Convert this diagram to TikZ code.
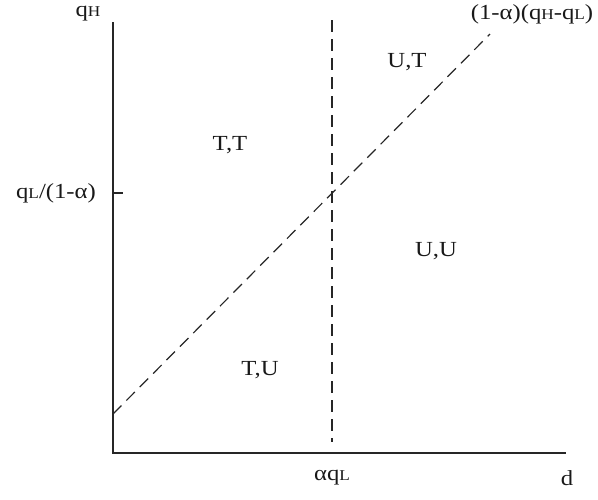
\documentclass[tikz,border=0pt]{standalone}
\usepackage{fontspec}
\setmainfont[FakeStretch=1.15]{Liberation Serif}
\newcommand{\sm}[1]{{\fontsize{15}{17}\selectfont #1}}
\begin{document}
\begin{tikzpicture}[x=1pt,y=-1pt,
  axisline/.style={line width=1.3pt,black!85},
  dashline/.style={line width=1.2pt,black!85,dash pattern=on 12pt off 7pt},
  lbl/.style={font=\fontsize{21.5}{24}\selectfont,inner sep=0pt,text=black!90}]
\useasboundingbox (0,0) rectangle (598,499);
\coordinate (O) at (113,453);
\coordinate (Ytop) at (113,22);
\coordinate (Xend) at (566,453);
\coordinate (TickA) at (113,193);
\coordinate (TickB) at (123,193);
\coordinate (Vtop) at (332,20);
\coordinate (Vbot) at (332,442);
\coordinate (Dstart) at (113,414);
\coordinate (Dend) at (490,34);
\draw[axisline] (Ytop) -- (O) -- (Xend);
\draw[axisline] (TickA) -- (TickB);
\draw[dashline] (Vtop) -- (Vbot);
\draw[dashline] (Dstart) -- (Dend);
\node[lbl] (qh) at (88,14) {q\sm{H}};
\node[lbl] (ql) at (56,193) {q\sm{L}/(1-α)};
\node[lbl] (diag) at (532,14) {(1-α)(q\sm{H}-q\sm{L})};
\node[lbl] (aql) at (332,478) {αq\sm{L}};
\node[lbl] (d) at (567,478) {d};
\node[lbl] (tt) at (230,145) {T,T};
\node[lbl] (ut) at (407,62) {U,T};
\node[lbl] (uu) at (436,251) {U,U};
\node[lbl] (tu) at (260,370) {T,U};
\end{tikzpicture}
\end{document}
